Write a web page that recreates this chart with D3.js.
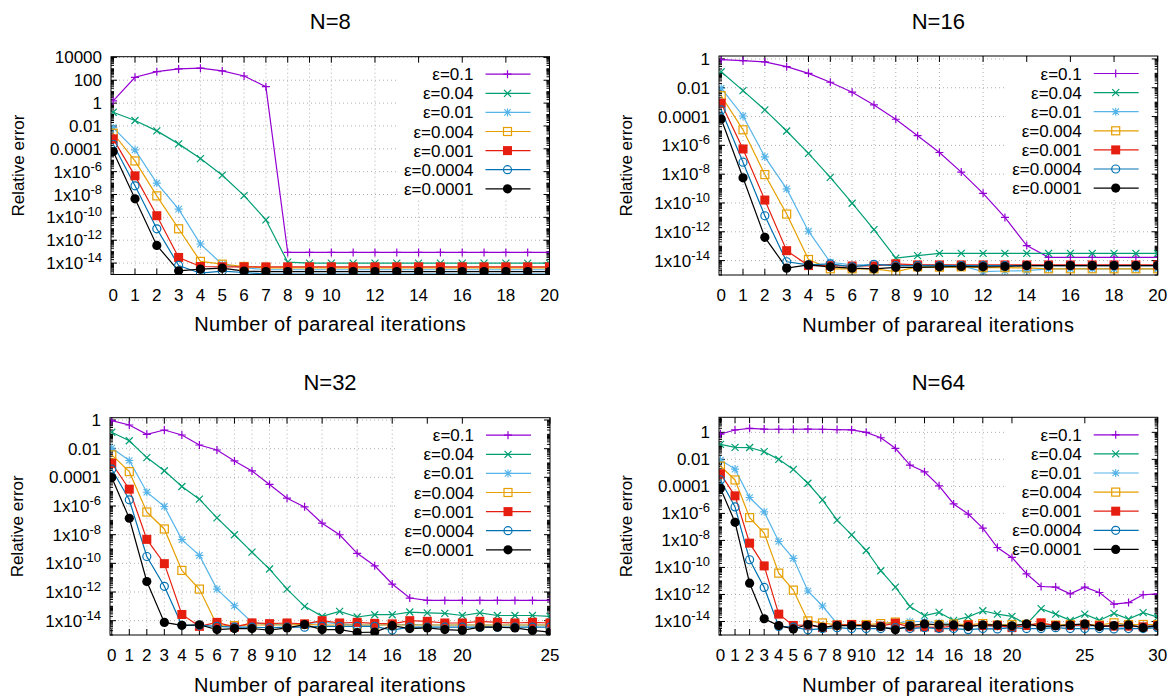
<!DOCTYPE html>
<html><head><meta charset="utf-8">
<script src="https://cdn.jsdelivr.net/npm/d3@7"></script>
<style>
body{margin:0;background:#fff}
svg{display:block}
text{font-family:"Liberation Sans",Arial,sans-serif;fill:#000}
</style>
</head><body>
<svg id="c" width="1175" height="697"></svg>
<script>
// ---------- labels / categories ----------
const seriesLabels = ["ε=0.1","ε=0.04","ε=0.01","ε=0.004","ε=0.001","ε=0.0004","ε=0.0001"];
const seriesColors = ["#9400d3","#009e73","#56b4e9","#e69f00","#e51e10","#0072b2","#000000"];
const seriesMarkers = ["plus","cross","star","square","squareFill","circle","circleFill"];
const panelTitles = ["N=8","N=16","N=32","N=64"];
const xTicks20 = [0,1,2,3,4,5,6,7,8,9,10,12,14,16,18,20];
const xTicks25 = [0,1,2,3,4,5,6,7,8,9,10,12,14,16,18,20,25];
const xTicks30 = [0,1,2,3,4,5,6,7,8,9,10,12,14,16,18,20,25,30];
const yTicksWide = [1e-14,1e-12,1e-10,1e-8,1e-6,1e-4,1e-2,1,1e2,1e4];
const yTicksUnit = [1e-14,1e-12,1e-10,1e-8,1e-6,1e-4,1e-2,1];

// ---------- N=8 ----------
const n8_a = [1.55,182,560,980,1130,650,235,27.5,8.5e-14,8.5e-14,8.5e-14,8.5e-14,8.5e-14,8.5e-14,8.5e-14,8.5e-14,8.5e-14,8.5e-14,8.5e-14,8.5e-14,8.5e-14];
const n8_b = [0.158,0.03,0.0037,2.7e-4,1.4e-5,4.9e-7,8.1e-9,6.1e-11,1.2e-14,1e-14,1e-14,1e-14,1e-14,1e-14,1e-14,1e-14,1e-14,1e-14,1e-14,1e-14,1e-14];
const n8_c = [0.0071,8.1e-5,1e-7,5.3e-10,4.6e-13,7.7e-15,4e-15,2.6e-15,2.6e-15,2.6e-15,2.6e-15,2.6e-15,2.6e-15,2.6e-15,2.6e-15,2.6e-15,2.6e-15,2.6e-15,2.6e-15,2.6e-15,2.6e-15];
const n8_d = [0.0023,8.7e-6,7.6e-9,1e-11,1.4e-14,8e-15,5e-15,3.8e-15,3.8e-15,3.8e-15,3.8e-15,3.8e-15,3.8e-15,3.8e-15,3.8e-15,3.8e-15,3.8e-15,3.8e-15,3.8e-15,3.8e-15,3.8e-15];
const n8_e = [7.4e-4,4.3e-7,1.4e-10,3.1e-14,5e-15,4.7e-15,4.7e-15,4.7e-15,4.7e-15,4.7e-15,4.7e-15,4.7e-15,4.7e-15,4.7e-15,4.7e-15,4.7e-15,4.7e-15,4.7e-15,4.7e-15,4.7e-15,4.7e-15];
const n8_f = [2.5e-4,5.8e-8,1e-11,6.2e-15,1.3e-15,2e-15,1.5e-15,1.1e-15,1.1e-15,1.1e-15,1.1e-15,1.1e-15,1.1e-15,1.1e-15,1.1e-15,1.1e-15,1.1e-15,1.1e-15,1.1e-15,1.1e-15,1.1e-15];
const n8_g = [5.7e-5,4.2e-9,3.5e-13,2.1e-15,2.9e-15,3.6e-15,2e-15,1.8e-15,1.8e-15,1.8e-15,1.8e-15,1.8e-15,1.8e-15,1.8e-15,1.8e-15,1.8e-15,1.8e-15,1.8e-15,1.8e-15,1.8e-15,1.8e-15];

// ---------- N=16 ----------
const n16_a = [0.9,0.76,0.62,0.29,0.1,0.024,0.0049,6.4e-4,6.5e-5,4.7e-6,3.2e-7,1.4e-8,4.7e-10,1e-11,1.1e-13,1.7e-14,1.7e-14,1.7e-14,1.7e-14,1.7e-14,1.7e-14];
const n16_b = [0.13,0.0063,2.9e-4,1e-5,2.8e-7,6e-9,9.6e-11,1.4e-12,1.5e-14,2.2e-14,3.2e-14,3.2e-14,3.2e-14,3.2e-14,3.2e-14,3.2e-14,3.2e-14,3.2e-14,3.2e-14,3.2e-14,3.2e-14];
const n16_c = [0.0093,1.1e-4,1.6e-7,9.5e-10,1.1e-12,7.7e-15,5e-15,5e-15,5e-15,5e-15,5e-15,4.5e-15,1.7e-15,1.9e-15,2e-15,2.7e-15,2.7e-15,2.7e-15,2.7e-15,2.7e-15,2.7e-15];
const n16_d = [0.0028,1.2e-5,9.4e-9,1.7e-11,1.2e-14,2.7e-15,2.7e-15,2.7e-15,1.7e-15,3.7e-15,3.5e-15,3.7e-15,3.2e-15,3.2e-15,3.1e-15,2.7e-15,2.7e-15,2.7e-15,2.7e-15,2.7e-15,2.7e-15];
const n16_e = [8.4e-4,5.6e-7,1.6e-10,4.9e-14,4.5e-15,4.5e-15,4.2e-15,4.2e-15,6e-15,5e-15,5e-15,5e-15,5e-15,5e-15,5e-15,5e-15,5e-15,5e-15,5e-15,5e-15,5e-15];
const n16_f = [2.9e-4,6.8e-8,1.3e-11,8.3e-15,5e-15,6e-15,3.7e-15,5.5e-15,4.5e-15,4.5e-15,4.5e-15,4.5e-15,4.5e-15,4.5e-15,4.5e-15,4.5e-15,4.5e-15,4.5e-15,4.5e-15,4.5e-15,4.5e-15];
const n16_g = [6.8e-5,5.6e-9,4.1e-13,3e-15,5e-15,3.7e-15,3e-15,2.7e-15,3.4e-15,3.4e-15,3.7e-15,3.9e-15,3.7e-15,3.9e-15,4.5e-15,4.5e-15,4.5e-15,4.5e-15,4.5e-15,4.5e-15,4.5e-15];

// ---------- N=32 ----------
const n32_a = [0.9,0.45,0.1,0.2,0.09,0.018,0.0081,0.0014,2.8e-4,3.2e-5,3.5e-6,8.7e-7,6.3e-8,9.9e-9,5e-10,6.7e-11,3.6e-12,3.8e-13,2.6e-13,2.6e-13,2.6e-13,2.6e-13,2.6e-13,2.6e-13,2.6e-13,2.6e-13];
const n32_b = [0.14,0.036,0.0024,2.9e-4,2.3e-5,3e-6,1.5e-7,9.9e-9,6e-10,4e-11,1.6e-12,1e-13,2e-14,4.5e-14,1.8e-14,2.6e-14,2.6e-14,4e-14,3.5e-14,3.2e-14,2.3e-14,3.5e-14,2.3e-14,2.3e-14,2.3e-14,2e-14];
const n32_c = [0.011,0.0015,9.2e-6,9.3e-7,4.5e-9,3.6e-10,1.6e-12,1.1e-13,7.6e-15,5e-15,5.5e-15,6e-15,8e-15,6e-15,5e-15,5e-15,5e-15,5.5e-15,5e-15,5e-15,5e-15,5e-15,5e-15,5e-15,5e-15,5e-15];
const n32_d = [0.0037,2.5e-4,3.8e-7,2.5e-8,3.2e-11,1.6e-12,5e-15,4.5e-15,5e-15,5e-15,5e-15,5.5e-15,5e-15,5e-15,5e-15,5e-15,5e-15,5e-15,5e-15,5e-15,5e-15,5e-15,5e-15,5e-15,5e-15,5e-15];
const n32_e = [9.6e-4,1.5e-5,4.7e-9,9.5e-11,2.7e-14,4e-15,7.6e-15,3.6e-15,7e-15,6.2e-15,6.9e-15,6e-15,1e-14,6.9e-15,7.7e-15,6.5e-15,6e-15,1e-14,9e-15,6.9e-15,6.9e-15,9e-15,7.7e-15,6.9e-15,7.7e-15,6.9e-15];
const n32_f = [3.7e-4,2.7e-6,3e-10,2.5e-12,4.7e-15,4.7e-15,4e-15,3.5e-15,3.5e-15,3.2e-15,3.5e-15,3.5e-15,4e-15,4e-15,4e-15,4e-15,2.2e-15,3.5e-15,3.5e-15,3.5e-15,3.5e-15,3.5e-15,3.5e-15,3.5e-15,3.5e-15,3.5e-15];
const n32_g = [9.6e-5,1.4e-7,5.4e-12,7.6e-15,4.7e-15,5.2e-15,2.4e-15,2.8e-15,2.8e-15,2.2e-15,3.1e-15,5.3e-15,2.4e-15,2.4e-15,1.5e-15,1.6e-15,4.5e-15,2.8e-15,3.1e-15,2.4e-15,2.1e-15,3.5e-15,3.5e-15,3.1e-15,2.1e-15,1.6e-15];

// ---------- N=64 ----------
const n64_a = [0.75,1.5,2,1.75,1.7,1.7,1.75,1.7,1.6,1.5,1.0,0.4,0.066,3.8e-3,1.2e-3,1.1e-4,5e-6,9e-7,8.1e-8,3e-9,5.5e-10,3.4e-11,3.9e-12,3.5e-12,1.1e-12,3.5e-12,1.4e-12,1.9e-13,2.5e-13,9.5e-13,1.1e-12];
const n64_b = [0.13,0.078,0.075,0.037,0.01,1.8e-3,1.7e-4,1e-5,3.2e-7,2.6e-8,1.8e-9,5.7e-11,3.5e-12,1.3e-13,2.7e-14,4.7e-14,1.2e-14,2.2e-14,6.2e-14,3.5e-14,2.4e-14,6.3e-15,9e-14,3.5e-14,1.2e-14,3.5e-14,1.2e-14,4e-14,1.5e-14,4.5e-14,2.1e-14];
const n64_c = [0.0089,1.9e-3,1.5e-5,1.3e-6,8.4e-9,4.7e-10,1.8e-12,1.4e-13,7e-15,5e-15,5e-15,6e-15,8e-15,1e-14,1e-14,8e-15,7e-15,5e-15,5e-15,4e-15,4.5e-15,5e-15,5e-15,4.5e-15,5e-15,4.5e-15,5e-15,4e-15,4e-15,5e-15,5e-15];
const n64_d = [3.2e-3,3e-4,4.9e-7,3.5e-8,3.8e-11,2.1e-12,1.1e-14,7.8e-15,5.5e-15,6e-15,6e-15,7e-15,9e-15,6e-15,5.5e-15,6e-15,6.5e-15,6e-15,7e-15,5.5e-15,6e-15,6e-15,6.5e-15,5.5e-15,6e-15,6e-15,5.5e-15,8e-15,6e-15,6e-15,6e-15];
const n64_e = [8.4e-4,2e-5,6.3e-9,1.3e-10,3.5e-14,5.1e-15,5.5e-15,3.5e-15,5.5e-15,6e-15,5e-15,4.5e-15,7.5e-15,4e-15,4e-15,3.5e-15,4.5e-15,5.5e-15,5e-15,5e-15,3.5e-15,5e-15,8e-15,5e-15,5e-15,5.5e-15,5e-15,4.5e-15,4.5e-15,4e-15,5e-15];
const n64_f = [3e-4,3e-6,3.7e-10,3.3e-12,4.3e-15,3.8e-15,2.4e-15,3e-15,3.5e-15,3e-15,3e-15,3e-15,3.5e-15,3e-15,3.5e-15,3e-15,3e-15,2.5e-15,3e-15,2.8e-15,3.5e-15,3e-15,3e-15,3.5e-15,3e-15,3e-15,3e-15,2.8e-15,3e-15,3e-15,3.5e-15];
const n64_g = [7.2e-5,2.2e-7,6.8e-12,1.6e-14,5e-15,2.8e-15,6e-15,3.7e-15,5e-15,5e-15,5e-15,4.2e-15,2.4e-15,4.8e-15,6.6e-15,5.6e-15,5.6e-15,4.2e-15,5.6e-15,5.6e-15,4.8e-15,6.6e-15,4.2e-15,4.8e-15,5.6e-15,6.6e-15,4.2e-15,5e-15,5.6e-15,3.5e-15,5e-15];

// ---------- layout ----------
const panels = [
  {title:panelTitles[0], series:[n8_a,n8_b,n8_c,n8_d,n8_e,n8_f,n8_g], xMax:20, xTicks:xTicks20, yTicks:yTicksWide, yTop:1.15e4,
   left:111, right:549.5, top:56.7, bottom:274.5},
  {title:panelTitles[1], series:[n16_a,n16_b,n16_c,n16_d,n16_e,n16_f,n16_g], xMax:20, xTicks:xTicks20, yTicks:yTicksUnit, yTop:1.6,
   left:719, right:1157.7, top:56, bottom:275},
  {title:panelTitles[2], series:[n32_a,n32_b,n32_c,n32_d,n32_e,n32_f,n32_g], xMax:25, xTicks:xTicks25, yTicks:yTicksUnit, yTop:1.45,
   left:110, right:550, top:417.7, bottom:635},
  {title:panelTitles[3], series:[n64_a,n64_b,n64_c,n64_d,n64_e,n64_f,n64_g], xMax:30, xTicks:xTicks30, yTicks:yTicksUnit, yTop:13,
   left:719, right:1157.7, top:417.3, bottom:635}
];

const svg = d3.select("#c");
svg.append("rect").attr("width",1175).attr("height",697).attr("fill","#fff");

function drawMarker(g, type, x, y, color) {
  const s = 4;
  if (type === "plus") {
    g.append("path").attr("d",`M${x-s},${y}H${x+s}M${x},${y-s}V${y+s}`).attr("stroke",color).attr("stroke-width",1.2).attr("fill","none");
  } else if (type === "cross") {
    const c = 3.5;
    g.append("path").attr("d",`M${x-c},${y-c}L${x+c},${y+c}M${x-c},${y+c}L${x+c},${y-c}`).attr("stroke",color).attr("stroke-width",1.2).attr("fill","none");
  } else if (type === "star") {
    const c = 3.2;
    g.append("path").attr("d",`M${x-s},${y}H${x+s}M${x},${y-s}V${y+s}M${x-c},${y-c}L${x+c},${y+c}M${x-c},${y+c}L${x+c},${y-c}`).attr("stroke",color).attr("stroke-width",1.1).attr("fill","none");
  } else if (type === "square") {
    g.append("rect").attr("x",x-4).attr("y",y-4).attr("width",8).attr("height",8).attr("stroke",color).attr("stroke-width",1.2).attr("fill","none");
  } else if (type === "squareFill") {
    g.append("rect").attr("x",x-4.5).attr("y",y-4.5).attr("width",9).attr("height",9).attr("fill",color);
  } else if (type === "circle") {
    g.append("circle").attr("cx",x).attr("cy",y).attr("r",4).attr("stroke",color).attr("stroke-width",1.2).attr("fill","none");
  } else if (type === "circleFill") {
    g.append("circle").attr("cx",x).attr("cy",y).attr("r",4.6).attr("fill",color);
  }
}

function addYLabel(sel, v) {
  const e = Math.round(Math.log10(v));
  if (e >= -4) {
    sel.text(e >= 0 ? String(Math.pow(10,e)) : "0." + "0".repeat(-e-1) + "1");
  } else {
    sel.append("tspan").text("1x10");
    sel.append("tspan").attr("dy",-7).attr("font-size",13).text(String(e));
  }
}

panels.forEach((p, pi) => {
  const g = svg.append("g");
  const x = d3.scaleLinear().domain([-0.1, p.xMax]).range([p.left, p.right]);
  const y = d3.scaleLog().domain([1e-15, p.yTop]).range([p.bottom, p.top]);
  const cx = (p.left + p.right) / 2;

  // grid
  const grid = g.append("g").attr("stroke","#b0b0b0").attr("stroke-width",1).attr("stroke-dasharray","1,3");
  p.xTicks.forEach(t => {
    if (t === p.xMax) return;
    grid.append("line").attr("x1",x(t)).attr("x2",x(t)).attr("y1",p.top).attr("y2",p.bottom);
  });
  p.yTicks.forEach(t => {
    grid.append("line").attr("x1",p.left).attr("x2",p.right).attr("y1",y(t)).attr("y2",y(t));
  });

  // opaque key area
  g.append("rect").attr("x",p.right-153).attr("y",p.top+1).attr("width",152).attr("height",141).attr("fill","#fff");

  // ticks (inward, mirrored)
  const tk = g.append("g").attr("stroke","#000").attr("stroke-width",1);
  p.xTicks.forEach(t => {
    tk.append("line").attr("x1",x(t)).attr("x2",x(t)).attr("y1",p.bottom).attr("y2",p.bottom-6);
    tk.append("line").attr("x1",x(t)).attr("x2",x(t)).attr("y1",p.top).attr("y2",p.top+6);
  });
  const lo = -15, hi = Math.log10(p.yTop);
  for (let e = lo; e <= Math.ceil(hi); e++) {
    for (let k = 1; k <= 9; k++) {
      const v = k * Math.pow(10, e);
      if (v < 1e-15 || v > p.yTop) continue;
      const isMajor = (k === 1 && e % 2 === 0 && e >= -14);
      const len = isMajor ? 6 : 3;
      tk.append("line").attr("x1",p.left).attr("x2",p.left+len).attr("y1",y(v)).attr("y2",y(v));
      tk.append("line").attr("x1",p.right).attr("x2",p.right-len).attr("y1",y(v)).attr("y2",y(v));
    }
  }

  // data
  const clipId = "clip" + pi;
  svg.append("clipPath").attr("id",clipId).append("rect")
    .attr("x",p.left).attr("y",p.top).attr("width",p.right-p.left).attr("height",p.bottom-p.top);
  const dg = g.append("g").attr("clip-path",`url(#${clipId})`);
  const line = d3.line().x((d,i) => x(i)).y(d => y(d));
  p.series.forEach((s, si) => {
    dg.append("path").datum(s).attr("d",line).attr("fill","none")
      .attr("stroke",seriesColors[si]).attr("stroke-width",1.2);
  });
  p.series.forEach((s, si) => {
    s.forEach((d, i) => drawMarker(dg, seriesMarkers[si], x(i), y(d), seriesColors[si]));
  });

  // border
  g.append("rect").attr("x",p.left).attr("y",p.top).attr("width",p.right-p.left).attr("height",p.bottom-p.top)
    .attr("fill","none").attr("stroke","#000").attr("stroke-width",1);

  // tick labels
  p.xTicks.forEach(t => {
    g.append("text").attr("x",x(t)).attr("y",p.bottom+26).attr("text-anchor","middle")
      .attr("font-size",17).text(t);
  });
  p.yTicks.forEach(t => {
    const tx = g.append("text").attr("x",p.left-9).attr("y",y(t)+6).attr("text-anchor","end").attr("font-size",17);
    addYLabel(tx, t);
  });

  // legend
  seriesLabels.forEach((lab, si) => {
    const ly = p.top + 17.5 + si * 19.1;
    g.append("text").attr("x",p.right-76).attr("y",ly+6).attr("text-anchor","end").attr("font-size",17).text(lab);
    g.append("line").attr("x1",p.right-64).attr("x2",p.right-19).attr("y1",ly).attr("y2",ly)
      .attr("stroke",seriesColors[si]).attr("stroke-width",1.2);
    drawMarker(g, seriesMarkers[si], p.right-42, ly, seriesColors[si]);
  });

  // titles and axis labels
  g.append("text").attr("x",cx).attr("y",p.top-27.4).attr("text-anchor","middle").attr("font-size",22).text(p.title);
  g.append("text").attr("x",cx).attr("y",p.bottom+56.5).attr("text-anchor","middle").attr("font-size",20)
    .attr("letter-spacing",0.45).text("Number of parareal iterations");
  const ly = (p.top + p.bottom) / 2;
  const lx = p.left - 87;
  g.append("text").attr("transform",`translate(${lx},${ly}) rotate(-90)`).attr("text-anchor","middle")
    .attr("font-size",17).text("Relative error");
});
</script>
</body></html>
